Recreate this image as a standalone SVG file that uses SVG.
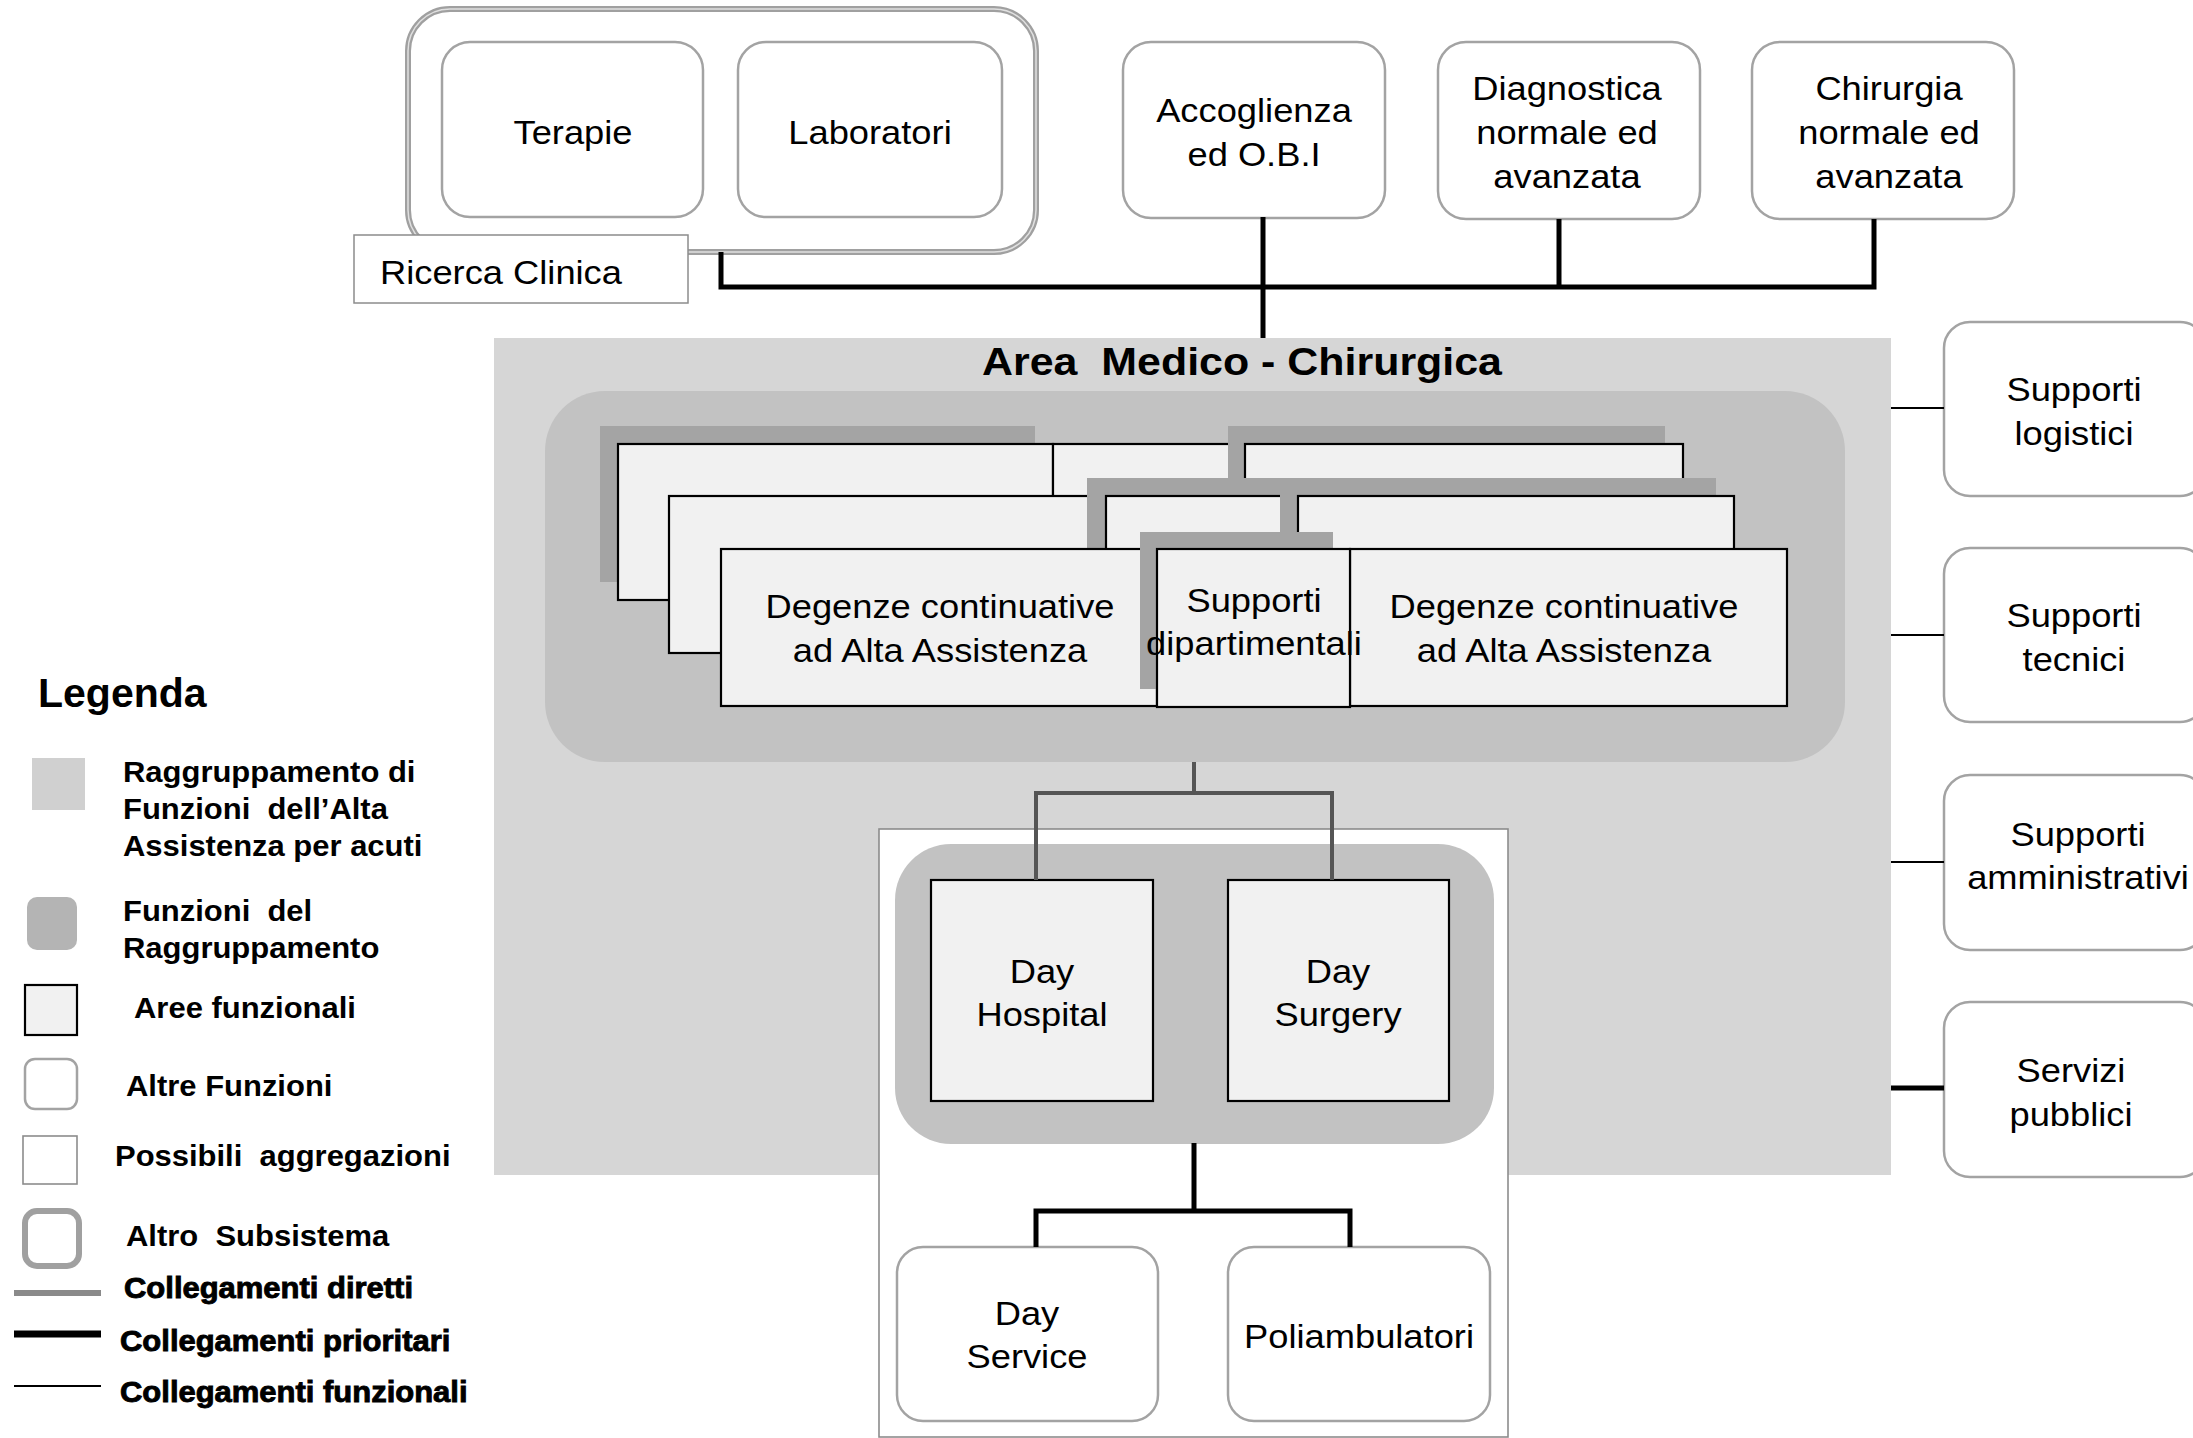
<svg xmlns="http://www.w3.org/2000/svg" width="2193" height="1438" viewBox="0 0 2193 1438">
  <style>
    .t{font-family:"Liberation Sans",Arial,sans-serif;font-size:33px;fill:#000;text-anchor:middle}
    .ttl{font-family:"Liberation Sans",Arial,sans-serif;font-size:38px;font-weight:bold;fill:#000;text-anchor:middle}
    .lg{font-family:"Liberation Sans",Arial,sans-serif;font-size:29.5px;font-weight:bold;fill:#000}
    .lgh{stroke:#000;stroke-width:0.9}
    .other{fill:#fff;stroke:#a3a3a3;stroke-width:2.5}
    .sub{fill:#fff;stroke:#a0a0a0;stroke-width:6}
    .subin{fill:none;stroke:#e0e0e0;stroke-width:1.5}
    .area{fill:#f1f1f1;stroke:#000;stroke-width:2.2}
    .shadow{fill:#a4a4a4}
    .agg{fill:#fff;stroke:#8c8c8c;stroke-width:1.6}
    .prio{stroke:#000;stroke-width:5;fill:none}
    .func{stroke:#000;stroke-width:2;fill:none}
    .direct{stroke:#555;stroke-width:4;fill:none}
  </style>

  <!-- Area Medico-Chirurgica background -->
  <g id="area-medico-chirurgica">
    <rect x="494" y="338" width="1397" height="837" fill="#d6d6d6"/>
    <text class="ttl" xml:space="preserve" transform="translate(1242,0) scale(1.13,1)" x="0" y="375">Area  Medico - Chirurgica</text>
  </g>

  <!-- Raggruppamento (high-care grouping) -->
  <g id="raggruppamento">
    <rect x="545" y="391" width="1300" height="371" rx="60" fill="#c2c2c2"/>
  </g>

  <!-- stacked functional areas: back layer -->
  <g id="layer-back">
    <rect class="shadow" x="600" y="426" width="435" height="156"/>
    <rect class="area" x="618" y="444" width="435" height="156"/>
    <rect class="area" x="1053" y="444" width="192" height="156"/>
    <rect class="shadow" x="1228" y="426" width="437" height="156"/>
    <rect class="area" x="1245" y="444" width="438" height="156"/>
  </g>
  <!-- middle layer -->
  <g id="layer-middle">
    <rect class="area" x="669" y="496" width="437" height="157"/>
    <rect class="shadow" x="1087" y="478" width="193" height="157"/>
    <rect class="area" x="1106" y="496" width="192" height="157"/>
    <rect class="shadow" x="1280" y="478" width="436" height="157"/>
    <rect class="area" x="1298" y="496" width="436" height="157"/>
  </g>
  <!-- front layer -->
  <g id="degenze-sx">
    <rect class="area" x="721" y="549" width="436" height="157"/>
    <text class="t" transform="translate(940,0) scale(1.1,1)"><tspan x="0" y="618">Degenze continuative</tspan><tspan x="0" y="662">ad Alta Assistenza</tspan></text>
  </g>
  <g id="degenze-dx">
    <rect class="area" x="1350" y="549" width="437" height="157"/>
    <text class="t" transform="translate(1564,0) scale(1.1,1)"><tspan x="0" y="618">Degenze continuative</tspan><tspan x="0" y="662">ad Alta Assistenza</tspan></text>
  </g>
  <g id="supporti-dipartimentali">
    <rect class="shadow" x="1140" y="532" width="193" height="157"/>
    <rect class="area" x="1157" y="549" width="193" height="158"/>
    <text class="t" transform="translate(1254,0) scale(1.1,1)"><tspan x="0" y="612">Supporti</tspan><tspan x="0" y="655">dipartimentali</tspan></text>
  </g>

  <!-- Altro Subsistema: Ricerca Clinica -->
  <g id="ricerca-clinica">
    <rect class="sub" x="408" y="9" width="628" height="243" rx="42"/>
    <rect class="subin" x="408" y="9" width="628" height="243" rx="42"/>
    <rect fill="#fff" stroke="#8c8c8c" stroke-width="1.5" x="354" y="235" width="334" height="68"/>
    <text class="t" style="text-anchor:start" transform="translate(380,0) scale(1.1,1)" x="0" y="284">Ricerca Clinica</text>
  </g>
  <g id="terapie">
    <rect class="other" x="442" y="42" width="261" height="175" rx="28"/>
    <text class="t" transform="translate(573,0) scale(1.1,1)" x="0" y="144">Terapie</text>
  </g>
  <g id="laboratori">
    <rect class="other" x="738" y="42" width="264" height="175" rx="28"/>
    <text class="t" transform="translate(870,0) scale(1.1,1)" x="0" y="144">Laboratori</text>
  </g>

  <!-- other functions, top row -->
  <g id="accoglienza">
    <rect class="other" x="1123" y="42" width="262" height="176" rx="28"/>
    <text class="t" transform="translate(1254,0) scale(1.1,1)"><tspan x="0" y="122">Accoglienza</tspan><tspan x="0" y="166">ed O.B.I</tspan></text>
  </g>
  <g id="diagnostica">
    <rect class="other" x="1438" y="42" width="262" height="177" rx="28"/>
    <text class="t" transform="translate(1567,0) scale(1.1,1)"><tspan x="0" y="100">Diagnostica</tspan><tspan x="0" y="144">normale ed</tspan><tspan x="0" y="188">avanzata</tspan></text>
  </g>
  <g id="chirurgia">
    <rect class="other" x="1752" y="42" width="262" height="177" rx="28"/>
    <text class="t" transform="translate(1889,0) scale(1.1,1)"><tspan x="0" y="100">Chirurgia</tspan><tspan x="0" y="144">normale ed</tspan><tspan x="0" y="188">avanzata</tspan></text>
  </g>

  <!-- supporting services, right column -->
  <g id="supporti-logistici">
    <rect class="other" x="1944" y="322" width="262" height="174" rx="26"/>
    <text class="t" transform="translate(2074,0) scale(1.1,1)"><tspan x="0" y="401">Supporti</tspan><tspan x="0" y="445">logistici</tspan></text>
  </g>
  <g id="supporti-tecnici">
    <rect class="other" x="1944" y="548" width="262" height="174" rx="26"/>
    <text class="t" transform="translate(2074,0) scale(1.1,1)"><tspan x="0" y="627">Supporti</tspan><tspan x="0" y="671">tecnici</tspan></text>
  </g>
  <g id="supporti-amministrativi">
    <rect class="other" x="1944" y="775" width="262" height="175" rx="26"/>
    <text class="t" transform="translate(2078,0) scale(1.1,1)"><tspan x="0" y="846">Supporti</tspan><tspan x="0" y="889">amministrativi</tspan></text>
  </g>
  <g id="servizi-pubblici">
    <rect class="other" x="1944" y="1002" width="262" height="175" rx="26"/>
    <text class="t" transform="translate(2071,0) scale(1.1,1)"><tspan x="0" y="1082">Servizi</tspan><tspan x="0" y="1126">pubblici</tspan></text>
  </g>

  <!-- day-care aggregation -->
  <g id="aggregazione-diurna">
    <rect class="agg" x="879" y="829" width="629" height="608"/>
    <rect x="895" y="844" width="599" height="300" rx="56" fill="#c2c2c2"/>
  </g>
  <g id="day-hospital">
    <rect class="area" x="931" y="880" width="222" height="221"/>
    <text class="t" transform="translate(1042,0) scale(1.1,1)"><tspan x="0" y="983">Day</tspan><tspan x="0" y="1026">Hospital</tspan></text>
  </g>
  <g id="day-surgery">
    <rect class="area" x="1228" y="880" width="221" height="221"/>
    <text class="t" transform="translate(1338,0) scale(1.1,1)"><tspan x="0" y="983">Day</tspan><tspan x="0" y="1026">Surgery</tspan></text>
  </g>
  <g id="day-service">
    <rect class="other" x="897" y="1247" width="261" height="174" rx="26"/>
    <text class="t" transform="translate(1027,0) scale(1.1,1)"><tspan x="0" y="1325">Day</tspan><tspan x="0" y="1368">Service</tspan></text>
  </g>
  <g id="poliambulatori">
    <rect class="other" x="1228" y="1247" width="262" height="174" rx="26"/>
    <text class="t" transform="translate(1359,0) scale(1.1,1)" x="0" y="1348">Poliambulatori</text>
  </g>

  <!-- connectors -->
  <g id="connectors">
    <path class="prio" d="M721 252 V287 H1874 V219"/>
    <path class="prio" d="M1559 219 V287"/>
    <path class="prio" d="M1263 217 V338"/>
    <path class="func" d="M1891 408 H1944 M1891 635 H1944 M1891 862 H1944"/>
    <path class="prio" d="M1891 1088 H1944"/>
    <path class="direct" d="M1194 762 V793 M1036 880 V793 H1332 V880"/>
    <path class="prio" d="M1194 1143 V1211 M1036 1247 V1211 H1350 V1247"/>
  </g>

  <!-- legend -->
  <g id="legenda">
    <text class="lg" style="font-size:41px" x="38" y="707">Legenda</text>

    <rect x="32" y="758" width="53" height="52" fill="#d0d0d0"/>
    <text class="lg" xml:space="preserve" transform="translate(123,0) scale(1.05,1)"><tspan x="0" y="782">Raggruppamento di</tspan><tspan x="0" y="819">Funzioni  dell’Alta</tspan><tspan x="0" y="856">Assistenza per acuti</tspan></text>

    <rect x="27" y="897" width="50" height="53" rx="10" fill="#b4b4b4"/>
    <text class="lg" xml:space="preserve" transform="translate(123,0) scale(1.05,1)"><tspan x="0" y="921">Funzioni  del</tspan><tspan x="0" y="958">Raggruppamento</tspan></text>

    <rect class="area" x="25" y="985" width="52" height="50" stroke-width="2.5"/>
    <text class="lg" transform="translate(134,0) scale(1.05,1)" x="0" y="1018">Aree funzionali</text>

    <rect class="other" x="25" y="1059" width="52" height="50" rx="10"/>
    <text class="lg" transform="translate(126,0) scale(1.05,1)" x="0" y="1096">Altre Funzioni</text>

    <rect class="agg" x="23" y="1136" width="54" height="48" stroke-width="2"/>
    <text class="lg" xml:space="preserve" transform="translate(115,0) scale(1.05,1)" x="0" y="1166">Possibili  aggregazioni</text>

    <rect class="sub" x="25" y="1211" width="54" height="55" rx="12" stroke-width="4"/>
    <text class="lg" xml:space="preserve" transform="translate(126,0) scale(1.05,1)" x="0" y="1246">Altro  Subsistema</text>

    <line x1="14" y1="1293" x2="101" y2="1293" stroke="#8a8a8a" stroke-width="6"/>
    <text class="lg lgh" transform="translate(124,0) scale(1.05,1)" x="0" y="1298">Collegamenti diretti</text>

    <line x1="14" y1="1334" x2="101" y2="1334" stroke="#000" stroke-width="7"/>
    <text class="lg lgh" transform="translate(120,0) scale(1.05,1)" x="0" y="1351">Collegamenti prioritari</text>

    <line x1="14" y1="1386" x2="101" y2="1386" stroke="#000" stroke-width="2"/>
    <text class="lg lgh" transform="translate(120,0) scale(1.05,1)" x="0" y="1402">Collegamenti funzionali</text>
  </g>
</svg>
